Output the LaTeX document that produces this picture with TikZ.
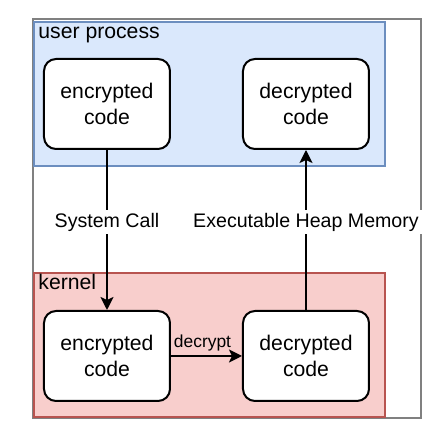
\documentclass[tikz,border=0pt]{standalone}
\usepackage{fontspec}
\setmainfont{Liberation Sans}
\usepackage{tikz}
\usetikzlibrary{arrows.meta,positioning}
\definecolor{userfill}{HTML}{DAE8FC}
\definecolor{userline}{HTML}{6C8EBF}
\definecolor{kernfill}{HTML}{F8CECC}
\definecolor{kernline}{HTML}{B85450}

\begin{document}
\begin{tikzpicture}[x=0.5pt, y=-0.5pt, node distance=80pt and 35.5pt, every node/.style={font=\fontsize{10.6}{13}\selectfont}, box/.style={draw,line width=1pt,rounded corners=6pt,align=center,minimum width=63pt,minimum height=45pt,inner sep=0pt,fill=white}, arrow/.style={-{Stealth[length=6.5pt,width=6.5pt,inset=1.5pt]},line width=1pt}, lbl/.style={fill=white,inner sep=1.5pt,font=\fontsize{9.8}{12}\selectfont}]
\useasboundingbox (0,0) rectangle (446,437);
\draw[gray, line width=0.6pt] (33,19) rectangle (421,418);
\filldraw[fill=userfill, draw=userline, line width=0.6pt] (34,22) rectangle (385,166);
\filldraw[fill=kernfill, draw=kernline, line width=0.6pt] (34,273) rectangle (385,417);
\node[anchor=base west, inner sep=0pt] (userlbl) at (38,39) {user process};
\node[anchor=base west, inner sep=0pt] (kernlbl) at (38,290) {kernel};
\node[box] (userenc) at (107,104) {encrypted\\code};
\node[box, right=of userenc] (userdec) {decrypted\\code};
\node[box, below=of userenc] (kernenc) {encrypted\\code};
\node[box, right=of kernenc] (kerndec) {decrypted\\code};
\draw[arrow] (userenc) -- node[lbl, pos=0.45] {System Call} (kernenc);
\draw[arrow] (kerndec) -- node[lbl, pos=0.55] {Executable Heap Memory} (userdec);
\draw[arrow] (kernenc) -- node[above, xshift=-2pt, inner sep=2pt, font=\fontsize{8.7}{10}\selectfont] {decrypt} (kerndec);
\end{tikzpicture}
\end{document}
